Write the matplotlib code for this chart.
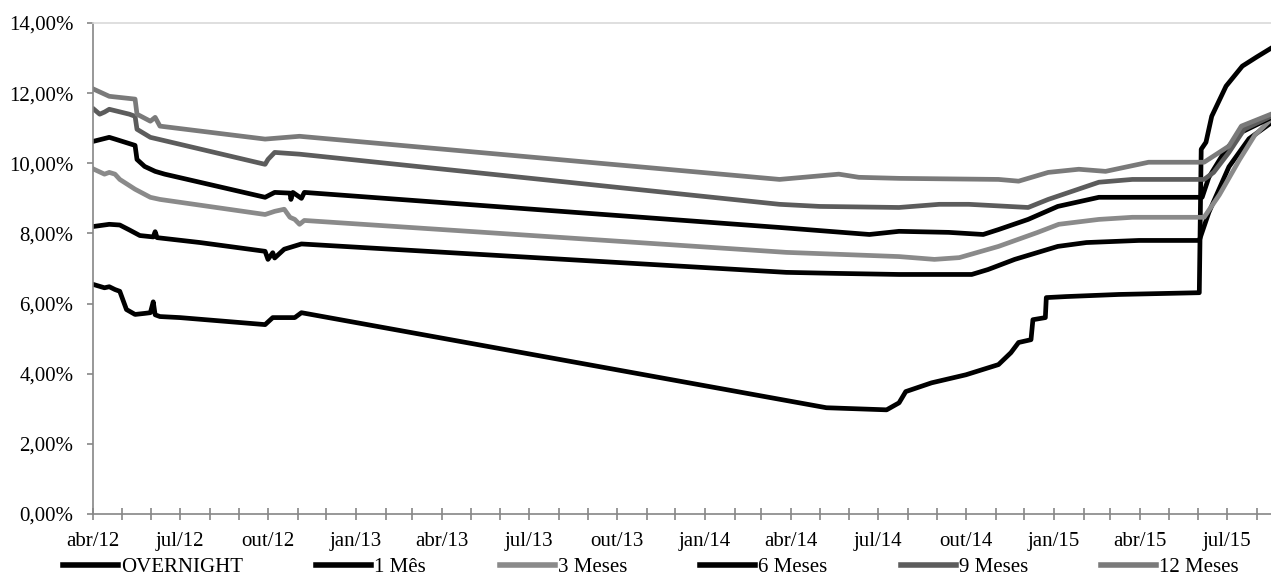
import matplotlib.pyplot as plt
import matplotlib.dates as mdates
from matplotlib.lines import Line2D
import pandas as pd

plt.rcParams['font.family'] = ['Liberation Serif', 'DejaVu Serif']
plt.rcParams['font.size'] = 15

# taxas (%)
overnight_dates = ['2012-04-02', '2012-04-13', '2012-04-18', '2012-04-24', '2012-04-29', '2012-05-06',
                   '2012-05-15', '2012-05-25', '2012-05-31', '2012-06-03', '2012-06-05', '2012-06-10',
                   '2012-07-01', '2012-09-28', '2012-10-06', '2012-10-29', '2012-11-05', '2014-05-08',
                   '2014-07-10', '2014-07-23', '2014-07-30', '2014-08-26', '2014-10-01', '2014-11-04',
                   '2014-11-17', '2014-11-25', '2014-12-08', '2014-12-10', '2014-12-23', '2014-12-24',
                   '2015-01-14', '2015-03-10', '2015-06-02', '2015-06-04', '2015-06-09', '2015-06-15',
                   '2015-06-30', '2015-07-17', '2015-08-01', '2015-08-16']
overnight = [6.54, 6.45, 6.48, 6.40, 6.35, 5.83,
             5.69, 5.72, 5.74, 6.05, 5.68, 5.63,
             5.60, 5.40, 5.60, 5.60, 5.74, 3.03,
             2.97, 3.17, 3.49, 3.74, 3.97, 4.26,
             4.60, 4.89, 4.97, 5.54, 5.60, 6.17,
             6.20, 6.26, 6.31, 10.40, 10.60, 11.34,
             12.20, 12.77, 13.03, 13.28]

mes1_dates = ['2012-04-02', '2012-04-18', '2012-04-29', '2012-05-09', '2012-05-20', '2012-06-03',
              '2012-06-05', '2012-06-07', '2012-07-22', '2012-09-28', '2012-10-01', '2012-10-06',
              '2012-10-08', '2012-10-18', '2012-11-05', '2014-03-27', '2014-05-20', '2014-07-23',
              '2014-10-07', '2014-10-24', '2014-11-21', '2014-12-08', '2015-01-05', '2015-02-04',
              '2015-03-31', '2015-06-02', '2015-06-12', '2015-07-03', '2015-07-24', '2015-08-16']
mes1 = [8.20, 8.26, 8.24, 8.10, 7.94, 7.90,
        8.05, 7.88, 7.74, 7.49, 7.26, 7.45,
        7.30, 7.55, 7.70, 6.89, 6.86, 6.83,
        6.83, 6.97, 7.26, 7.40, 7.63, 7.74,
        7.80, 7.80, 8.60, 9.90, 10.70, 11.15]

mes3_dates = ['2012-04-02', '2012-04-13', '2012-04-18', '2012-04-24', '2012-04-29', '2012-05-15',
              '2012-05-31', '2012-06-10', '2012-09-28', '2012-10-08', '2012-10-18', '2012-10-24',
              '2012-10-29', '2012-11-03', '2012-11-08', '2014-03-27', '2014-07-23', '2014-08-29',
              '2014-09-24', '2014-11-04', '2014-12-15', '2015-01-06', '2015-02-17', '2015-03-24',
              '2015-06-07', '2015-06-23', '2015-07-14', '2015-07-30', '2015-08-16']
mes3 = [9.83, 9.69, 9.74, 9.69, 9.54, 9.26,
        9.03, 8.97, 8.54, 8.63, 8.69, 8.46,
        8.40, 8.26, 8.37, 7.46, 7.34, 7.26,
        7.31, 7.63, 8.03, 8.26, 8.40, 8.46,
        8.46, 9.10, 10.10, 10.80, 11.25]

mes6_dates = ['2012-04-02', '2012-04-18', '2012-04-24', '2012-05-15', '2012-05-17', '2012-05-25',
              '2012-06-05', '2012-06-15', '2012-09-28', '2012-10-08', '2012-10-24', '2012-10-25',
              '2012-10-27', '2012-11-05', '2012-11-08', '2014-03-20', '2014-06-22', '2014-07-23',
              '2014-09-13', '2014-10-19', '2014-11-04', '2014-12-05', '2015-01-05', '2015-02-17',
              '2015-06-05', '2015-06-12', '2015-06-30', '2015-07-17', '2015-08-16']
mes6 = [10.63, 10.74, 10.69, 10.51, 10.11, 9.91,
        9.77, 9.69, 9.03, 9.17, 9.15, 8.97,
        9.17, 9.00, 9.17, 8.17, 7.97, 8.06,
        8.03, 7.97, 8.11, 8.40, 8.77, 9.03,
        9.03, 9.60, 10.40, 10.90, 11.30]

mes9_dates = ['2012-04-02', '2012-04-08', '2012-04-13', '2012-04-18', '2012-05-09', '2012-05-15',
              '2012-05-17', '2012-05-31', '2012-09-28', '2012-10-01', '2012-10-08', '2012-11-03',
              '2014-03-20', '2014-05-01', '2014-07-23', '2014-09-03', '2014-10-04', '2014-12-05',
              '2014-12-26', '2015-02-17', '2015-03-24', '2015-06-07', '2015-06-17', '2015-07-03',
              '2015-07-19', '2015-08-16']
mes9 = [11.54, 11.40, 11.46, 11.54, 11.40, 11.34,
        10.97, 10.74, 9.97, 10.11, 10.31, 10.26,
        8.83, 8.77, 8.74, 8.83, 8.83, 8.74,
        8.97, 9.46, 9.54, 9.54, 9.74, 10.31,
        10.97, 11.34]

mes12_dates = ['2012-04-02', '2012-04-18', '2012-05-15', '2012-05-17', '2012-05-31', '2012-06-05',
               '2012-06-10', '2012-09-28', '2012-11-03', '2014-03-20', '2014-05-21', '2014-06-11',
               '2014-07-23', '2014-11-04', '2014-11-25', '2014-12-26', '2015-01-27', '2015-02-24',
               '2015-04-10', '2015-06-07', '2015-07-03', '2015-07-16', '2015-08-16']
mes12 = [12.11, 11.91, 11.83, 11.40, 11.20, 11.31,
         11.06, 10.69, 10.77, 9.54, 9.69, 9.60,
         9.57, 9.54, 9.49, 9.74, 9.83, 9.77,
         10.03, 10.03, 10.49, 11.06, 11.40]

labels = ['OVERNIGHT', '1 Mês', '3 Meses', '6 Meses', '9 Meses', '12 Meses']
colors = ['#000000', '#000000', '#8a8a8a', '#000000', '#5c5c5c', '#7a7a7a']

tick_dates = pd.date_range('2012-04-01', '2015-07-01', freq='QS')
tick_labels = ['abr/12', 'jul/12', 'out/12', 'jan/13', 'abr/13', 'jul/13', 'out/13',
               'jan/14', 'abr/14', 'jul/14', 'out/14', 'jan/15', 'abr/15', 'jul/15']
y_ticks = [0, 2, 4, 6, 8, 10, 12, 14]
y_labels = ['0,00%', '2,00%', '4,00%', '6,00%', '8,00%', '10,00%', '12,00%', '14,00%']

W, H = 1271, 581
fig = plt.figure(figsize=(W / 100, H / 100), dpi=100)
ax = fig.add_axes([93 / W, 1 - 514 / H, 1 - 93 / W, (514 - 23) / H])

series = [(overnight_dates, overnight), (mes1_dates, mes1), (mes3_dates, mes3),
          (mes6_dates, mes6), (mes9_dates, mes9), (mes12_dates, mes12)]
lines = []
for (d, v), lab, c in zip(series, labels, colors):
    ln, = ax.plot(pd.to_datetime(d), v, color=c, lw=3.4, solid_joinstyle='round', label=lab)
    lines.append(ln)

ax.set_xlim(pd.Timestamp('2012-04-01'), pd.Timestamp('2015-08-16'))
ax.set_ylim(0, 14)
ax.set_yticks(y_ticks)
ax.set_yticklabels(y_labels)
ax.set_xticks(tick_dates)
ax.set_xticklabels(tick_labels)
ax.xaxis.set_minor_locator(mdates.MonthLocator())

for s in ['left', 'bottom']:
    ax.spines[s].set_color('#868686')
    ax.spines[s].set_linewidth(1.2)
ax.spines['top'].set_color('#d9d9d9')
ax.spines['top'].set_linewidth(1.2)
ax.spines['right'].set_visible(False)

ax.tick_params(axis='x', which='both', direction='inout', length=8.5, width=1.2,
               color='#868686', pad=9)
ax.tick_params(axis='y', direction='out', length=4, width=1.2, color='#868686', pad=10)

# legenda em linha, uma entrada por serie
legend_x = [63, 316, 500, 700, 901, 1101]
for ln, x in zip(lines, legend_x):
    h = Line2D([], [], color=ln.get_color(), lw=4)
    fig.legend([h], [ln.get_label()], loc='center left', bbox_to_anchor=(x / W, 1 - 567 / H),
               frameon=False, handlelength=2.65, handletextpad=0.15, borderpad=0,
               borderaxespad=0)

fig.savefig('out.png', dpi=100)
